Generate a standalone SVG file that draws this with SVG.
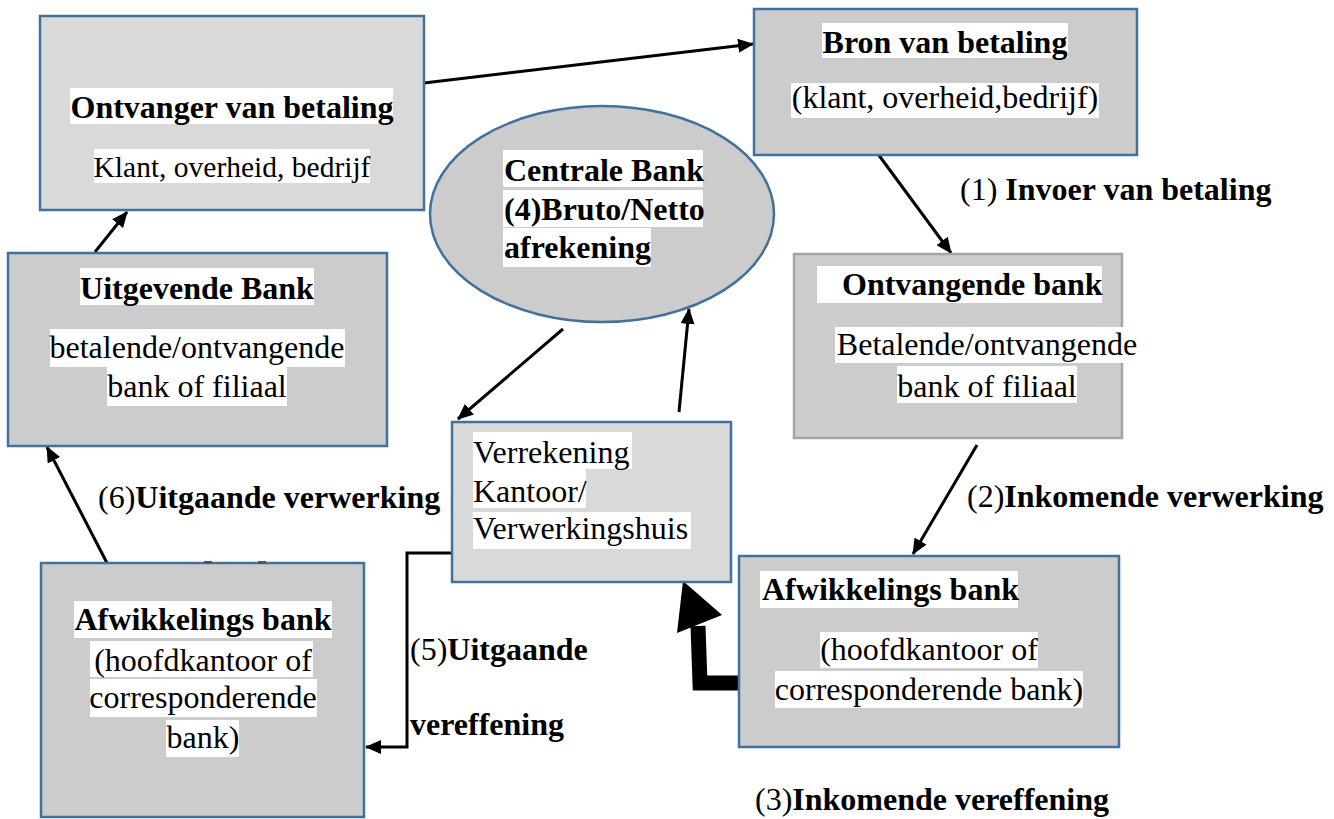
<svg xmlns="http://www.w3.org/2000/svg" width="1334" height="819" viewBox="0 0 1334 819">
<defs>
<style>
.box{stroke:#41719c;stroke-width:2.5}
.lt{fill:#d9d9d9}
.dk{fill:#cccccc}
.hl{fill:#ffffff}
text{font-family:"Liberation Serif","Times New Roman",serif;font-size:32px;fill:#000}
.b{font-weight:bold}
.c{text-anchor:middle}
.con{fill:none;stroke:#000;stroke-width:3}
</style>
<marker id="ah" markerUnits="userSpaceOnUse" markerWidth="16" markerHeight="14" refX="15" refY="7" orient="auto">
<path d="M0,0 L16,7 L0,14 z" fill="#000"/>
</marker>
</defs>
<rect width="1334" height="819" fill="#fff"/>

<g id="connectors">
<path class="con" d="M424,83 L753,44" marker-end="url(#ah)"/>
<path class="con" d="M878,154 L951,253" marker-end="url(#ah)"/>
<path class="con" d="M977,445 L913,554" marker-end="url(#ah)"/>
<path class="con" d="M563,329 L458,419" marker-end="url(#ah)"/>
<path class="con" d="M679,412 L689,309" marker-end="url(#ah)"/>
<path class="con" d="M452,553 L407,553 L407,747 L366,747" marker-end="url(#ah)"/>
<path class="con" d="M107,563 L47,447" marker-end="url(#ah)"/>
<path class="con" d="M95,252 L127,212" marker-end="url(#ah)"/>
<polyline points="759,683 700,683 698,626" fill="none" stroke="#000" stroke-width="15"/>
<polygon points="683,581 677,633 722,615" fill="#000"/>
</g>

<g id="n-ontvanger">
<rect class="box lt" x="40" y="16" width="384" height="194"/>
<rect class="hl" x="70" y="88" width="323" height="36"/>
<text class="b c" x="232" y="118">Ontvanger van betaling</text>
<rect class="hl" x="94" y="149" width="276" height="34"/>
<text class="c" x="232" y="177" style="font-size:29.5px">Klant, overheid, bedrijf</text>
</g>

<g id="n-bron">
<rect class="box dk" x="754" y="9" width="383" height="146"/>
<rect class="hl" x="822" y="23" width="246" height="35"/>
<text class="b c" x="945" y="53">Bron van betaling</text>
<rect class="hl" x="791" y="83" width="308" height="35"/>
<text class="c" x="945" y="108">(klant, overheid,bedrijf)</text>
</g>

<g id="n-centrale">
<ellipse class="box dk" cx="602" cy="214" rx="172" ry="108"/>
<rect class="hl" x="503" y="150" width="200" height="37"/>
<rect class="hl" x="503" y="190" width="200" height="37"/>
<rect class="hl" x="503" y="228" width="148" height="39"/>
<text class="b" x="504" y="181">Centrale Bank</text>
<text class="b" x="504" y="220">(4)Bruto/Netto</text>
<text class="b" x="504" y="258">afrekening</text>
</g>

<g id="n-uitgevende">
<rect class="box dk" x="8" y="253" width="379" height="193"/>
<rect class="hl" x="80" y="268" width="234" height="37"/>
<text class="b c" x="197" y="299">Uitgevende Bank</text>
<rect class="hl" x="50" y="329" width="295" height="38"/>
<text class="c" x="197" y="358">betalende/ontvangende</text>
<rect class="hl" x="107" y="367" width="180" height="39"/>
<text class="c" x="197" y="397">bank of filiaal</text>
</g>

<g id="n-ontvangende">
<rect class="dk" x="794" y="254" width="328" height="184" stroke="#a6a6a6" stroke-width="2.5"/>
<rect class="hl" x="817" y="266" width="285" height="37"/>
<text class="b" x="842" y="295">Ontvangende bank</text>
<rect class="hl" x="835" y="327" width="304" height="36"/>
<text class="c" x="987" y="355">Betalende/ontvangende</text>
<rect class="hl" x="897" y="366" width="180" height="37"/>
<text class="c" x="987" y="397">bank of filiaal</text>
</g>

<g id="n-verrekening">
<rect class="box lt" x="452" y="422" width="279" height="160"/>
<rect class="hl" x="473" y="432" width="159" height="37"/>
<rect class="hl" x="473" y="469" width="113" height="39"/>
<rect class="hl" x="473" y="512" width="218" height="37"/>
<text x="473" y="463">Verrekening</text>
<text x="473" y="502">Kantoor/</text>
<text x="473" y="539">Verwerkingshuis</text>
</g>

<g id="n-afwikkelings-links">
<rect class="box dk" x="41" y="563" width="323" height="254"/>
<rect x="204" y="561" width="8" height="3" fill="#555"/>
<rect x="258" y="561" width="8" height="3" fill="#555"/>
<rect class="hl" x="74" y="601" width="258" height="37"/>
<text class="b c" x="203" y="630">Afwikkelings bank</text>
<rect class="hl" x="90" y="641" width="223" height="36"/>
<text class="c" x="203" y="671">(hoofdkantoor of</text>
<rect class="hl" x="90" y="679" width="227" height="38"/>
<text class="c" x="203" y="708">corresponderende</text>
<rect class="hl" x="166" y="720" width="73" height="37"/>
<text class="c" x="203" y="748">bank)</text>
</g>

<g id="n-afwikkelings-rechts">
<rect class="box dk" x="739" y="556" width="380" height="191"/>
<rect class="hl" x="760" y="571" width="258" height="37"/>
<text class="b" x="762" y="600">Afwikkelings bank</text>
<rect class="hl" x="820" y="632" width="218" height="36"/>
<text class="c" x="929" y="660">(hoofdkantoor of</text>
<rect class="hl" x="775" y="671" width="308" height="37"/>
<text class="c" x="929" y="700">corresponderende bank)</text>
</g>

<g id="labels">
<text x="960" y="200">(1) <tspan class="b">Invoer van betaling</tspan></text>
<text x="967" y="507">(2)<tspan class="b">Inkomende verwerking</tspan></text>
<text x="755" y="810">(3)<tspan class="b">Inkomende vereffening</tspan></text>
<text x="410" y="660">(5)<tspan class="b">Uitgaande</tspan></text>
<text class="b" x="410" y="735">vereffening</text>
<text x="98" y="508">(6)<tspan class="b">Uitgaande verwerking</tspan></text>
</g>
</svg>
